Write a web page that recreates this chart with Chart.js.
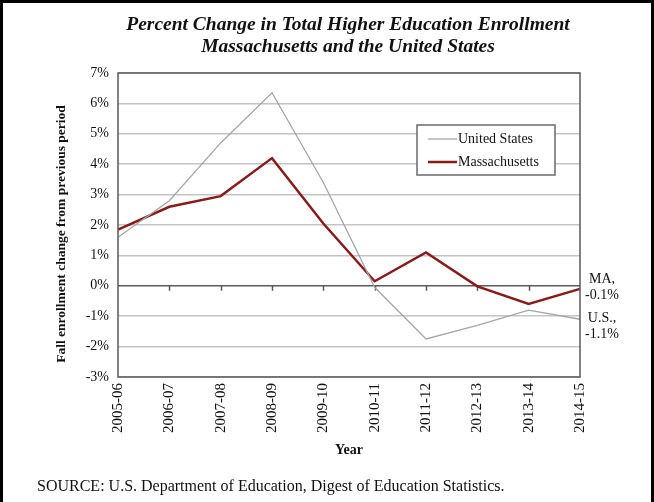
<!DOCTYPE html>
<html>
<head>
<meta charset="utf-8">
<script src="https://cdn.jsdelivr.net/npm/chart.js@4.4.1/dist/chart.umd.min.js"></script>
<style>
  html, body { margin: 0; padding: 0; background: #fff; }
  body { width: 654px; height: 502px; position: relative; overflow: hidden; font-family: 'Liberation Serif', 'Times New Roman', serif; }
  #frame { position: absolute; left: 0; top: 0; width: 648px; height: 520px; border: 3px solid #000; border-bottom: none; }
  #chart { position: absolute; left: 0; top: 0; }
  #title { position: absolute; left: 22px; top: 13px; width: 652px; text-align: center; font-size: 19.5px; line-height: 22px; font-weight: bold; font-style: italic; color: #111; }
  #source { position: absolute; left: 37px; top: 477px; font-size: 16px; color: #111; }
</style>
</head>
<body>
<div id="frame"></div>
<canvas id="chart" width="654" height="502"></canvas>
<div id="title">Percent Change in Total Higher Education Enrollment<br>Massachusetts and the United States</div>
<div id="source">SOURCE: U.S. Department of Education, Digest of Education Statistics.</div>
<script>
// Academic years on the x axis
const years = ['2005-06', '2006-07', '2007-08', '2008-09', '2009-10', '2010-11', '2011-12', '2012-13', '2013-14', '2014-15'];

// Percent change in fall enrollment from previous period
const usChange = [1.6, 2.8, 4.7, 6.35, 3.4, -0.05, -1.75, -1.3, -0.8, -1.1];
const maChange = [1.85, 2.6, 2.95, 4.2, 2.05, 0.15, 1.1, -0.02, -0.6, -0.1];

// y axis range in percent
const yMin = -3;
const yMax = 7;

const yTitle = 'Fall enrollment change from previous period';
const serif = "'Liberation Serif', 'Times New Roman', serif";

// Plot border, ticks on the zero line, legend box, y title and end labels
const decorations = {
    id: 'decorations',
    beforeDatasetsDraw(chart) {
        const ctx = chart.ctx;
        const x = chart.scales.x;
        const y0 = chart.scales.y.getPixelForValue(0);
        ctx.save();
        ctx.strokeStyle = '#5a5a5a';
        ctx.lineWidth = 1.5;
        ctx.beginPath();
        for (let i = 1; i < years.length - 1; i++) {
            const px = Math.round(x.getPixelForValue(i)) + 0.5;
            ctx.moveTo(px, y0);
            ctx.lineTo(px, y0 + 5);
        }
        ctx.stroke();
        ctx.restore();
    },
    afterDraw(chart) {
        const ctx = chart.ctx;
        const a = chart.chartArea;
        const y = chart.scales.y;
        ctx.save();
        ctx.strokeStyle = '#5a5a5a';
        ctx.lineWidth = 1.5;
        ctx.strokeRect(a.left, a.top, a.right - a.left, a.bottom - a.top);

        // y axis title
        ctx.save();
        ctx.translate(62, 234);
        ctx.rotate(-Math.PI / 2);
        ctx.font = 'bold 13.5px ' + serif;
        ctx.fillStyle = '#111';
        ctx.textAlign = 'center';
        ctx.textBaseline = 'middle';
        ctx.fillText(yTitle, 0, 0);
        ctx.restore();

        // legend
        const lx = 417, ly = 125, lw = 138, lh = 50;
        ctx.fillStyle = '#fff';
        ctx.fillRect(lx, ly, lw, lh);
        ctx.strokeStyle = '#6a6a6a';
        ctx.lineWidth = 1.5;
        ctx.strokeRect(lx, ly, lw, lh);
        const items = [
            { label: 'United States', color: '#a6a6a6', width: 1.3 },
            { label: 'Massachusetts', color: '#8b1a1a', width: 2.5 }
        ];
        ctx.font = '14px ' + serif;
        ctx.textBaseline = 'middle';
        items.forEach((it, i) => {
            const cy = ly + 14 + i * 23;
            ctx.strokeStyle = it.color;
            ctx.lineWidth = it.width;
            ctx.beginPath();
            ctx.moveTo(lx + 11, cy);
            ctx.lineTo(lx + 40, cy);
            ctx.stroke();
            ctx.fillStyle = '#111';
            ctx.textAlign = 'left';
            ctx.fillText(it.label, lx + 41, cy);
        });

        // end-of-line labels
        ctx.font = '14px ' + serif;
        ctx.textAlign = 'center';
        ctx.textBaseline = 'alphabetic';
        ctx.fillStyle = '#111';
        const last = years.length - 1;
        const cx = a.right + 22;
        const yMa = y.getPixelForValue(maChange[last]);
        ctx.fillText('MA,', cx, yMa - 6);
        ctx.fillText(maChange[last].toFixed(1) + '%', cx, yMa + 10);
        const yUs = y.getPixelForValue(usChange[last]);
        ctx.fillText('U.S.,', cx, yUs + 3);
        ctx.fillText(usChange[last].toFixed(1) + '%', cx, yUs + 19);
        ctx.restore();
    }
};

new Chart(document.getElementById('chart'), {
    type: 'line',
    data: {
        labels: years,
        datasets: [
            {
                label: 'United States',
                data: usChange,
                borderColor: '#a6a6a6',
                borderWidth: 1.3,
                pointRadius: 0,
                tension: 0,
                fill: false
            },
            {
                label: 'Massachusetts',
                data: maChange,
                borderColor: '#8b1a1a',
                borderWidth: 2.5,
                pointRadius: 0,
                tension: 0,
                fill: false
            }
        ]
    },
    options: {
        responsive: false,
        animation: false,
        layout: { padding: { left: 50, top: 73, right: 74, bottom: 41 } },
        plugins: {
            legend: { display: false },
            tooltip: { enabled: false }
        },
        scales: {
            x: {
                offset: false,
                afterFit: function(scale) { scale.height = 84; },
                grid: { display: false, drawTicks: false },
                border: { display: false },
                ticks: {
                    autoSkip: false,
                    minRotation: 90,
                    maxRotation: 90,
                    padding: 6,
                    color: '#111',
                    font: { family: serif, size: 15 }
                },
                title: {
                    display: true,
                    text: 'Year',
                    color: '#111',
                    padding: 2,
                    font: { family: serif, size: 14, weight: 'bold' }
                }
            },
            y: {
                min: yMin,
                max: yMax,
                afterFit: function(scale) { scale.width = 68; },
                grid: {
                    drawTicks: false,
                    lineWidth: 1.5,
                    color: function(c) { return c.tick.value === 0 ? '#5a5a5a' : '#c4c4c4'; }
                },
                border: { display: false },
                ticks: {
                    stepSize: 1,
                    padding: 9,
                    color: '#111',
                    font: { family: serif, size: 14 },
                    callback: function(v) { return v + '%'; }
                }
            }
        }
    },
    plugins: [decorations]
});
</script>
</body>
</html>
